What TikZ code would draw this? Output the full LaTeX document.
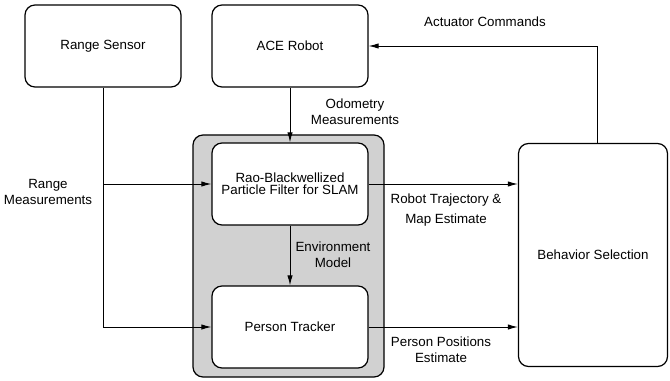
\documentclass[tikz,border=0pt]{standalone}
\usepackage{fontspec}
\setmainfont{Liberation Sans}
\usepackage{tikz}
\usetikzlibrary{arrows.meta, positioning, calc}

\begin{document}
\begin{tikzpicture}[
  x=0.75pt, y=-0.75pt,
  >=Latex,
  font=\fontsize{10}{12}\selectfont,
  box/.style={draw, line width=0.9pt, rounded corners=7.5pt, fill=white, align=center,
              minimum width=117pt, minimum height=61.5pt},
  bigbox/.style={draw, line width=0.9pt, rounded corners=7.5pt, fill=black!18,
              minimum width=143.25pt, minimum height=181.5pt},
  lbl/.style={align=center},
  arrow/.style={-{Latex[length=7.5pt,width=4pt]}, line width=0.7pt}
]
\useasboundingbox (0,0) rectangle (670,381);

% Grey filter block behind the two inner boxes
\node[bigbox] (block) at (288.5,256) {};

% Main boxes
\node[box] (sensor) at (103,46) {Range Sensor};
\node[box] (robot) at (290,46) {ACE Robot};
\node[box, font=\fontsize{10}{9}\selectfont] (rbpf) at (290,184) {Rao-Blackwellized\\Particle Filter for SLAM};
\node[box] (tracker) at (290,327) {Person Tracker};
\node[box, minimum width=111.75pt, minimum height=167.25pt] (behavior) at (593,255) {Behavior Selection};

% Labels
\node[lbl] (rangelbl) at (48,192) {Range\\Measurements};
\node[lbl] (odolbl) at (355,112) {Odometry\\Measurements};
\node[lbl] (envlbl) at (333,255) {Environment\\Model};
\node[lbl] (trajlbl) at (446,210) {Robot Trajectory \&\\[3pt]Map Estimate};
\node[lbl] (perslbl) at (441,350) {Person Positions\\Estimate};
\node[lbl] (actlbl) at (485,22) {Actuator Commands};

% Arrows
\draw[arrow] (robot) -- (rbpf);
\draw[arrow] (rbpf) -- (tracker);
\draw[arrow] (sensor.south) |- (tracker.west);
\draw[arrow] (sensor.south |- rbpf.west) -- (rbpf.west);
\draw[arrow] (rbpf.east) -- (rbpf.east -| behavior.west);
\draw[arrow] (tracker.east) -- (tracker.east -| behavior.west);
\draw[arrow] ([xshift=3pt]behavior.north) |- (robot.east);

\end{tikzpicture}
\end{document}
